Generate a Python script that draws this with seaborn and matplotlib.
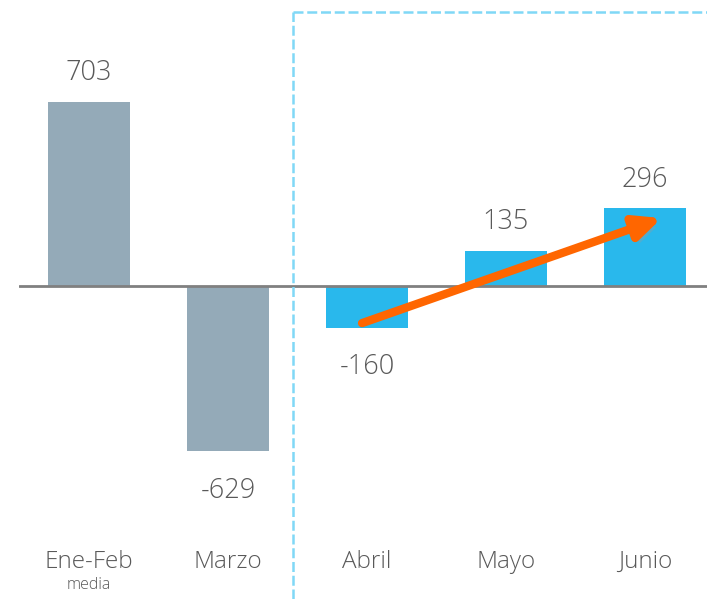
import matplotlib
matplotlib.use("Agg")
import matplotlib.pyplot as plt
import matplotlib.patheffects as pe
from matplotlib.lines import Line2D
import seaborn as sns
import pandas as pd

# chart data
categories = ["Ene-Feb", "Marzo", "Abril", "Mayo", "Junio"]
values = [703, -629, -160, 135, 296]
bar_colors = ["#94AAB8", "#94AAB8", "#29B8EC", "#29B8EC", "#29B8EC"]
sub_label = "media"

sns.set_theme(style="white")
plt.rcParams["font.family"] = ["Open Sans", "DejaVu Sans"]
text_color = "#595959"

df = pd.DataFrame({"cat": categories, "val": values})

fig = plt.figure(figsize=(7.07, 5.99), dpi=100)
ax = fig.add_axes([19 / 707, 0, 1 - 19 / 707, 1])

sns.barplot(data=df, x="cat", y="val", hue="cat", palette=bar_colors,
            legend=False, width=0.59, saturation=1, linewidth=0, ax=ax)

ax.set_xlim(-0.504, 4.446)
ax.set_ylim(-1192, 1090)
ax.axhline(0, color="#808080", lw=2, zorder=3)
sns.despine(ax=ax, left=True, bottom=True)
ax.set_xticks([])
ax.set_yticks([])
ax.set_xlabel("")
ax.set_ylabel("")

# value labels
for i, v in enumerate(values):
    off = 110 if v > 0 else -150
    ax.text(i, v + off, f"{v}", ha="center", va="center", fontsize=19.5,
            color=text_color, fontweight="light")

# category labels
for i, c in enumerate(categories):
    ax.text(i, -1051, c, ha="center", va="center", fontsize=17.5,
            color=text_color, fontweight="light")
ax.text(0, -1137, sub_label, ha="center", va="center", fontsize=11.5,
        color=text_color, fontweight="light")

# trend arrow
ax.annotate("", xy=(4.12, 259), xytext=(1.964, -141),
            arrowprops=dict(arrowstyle="-|>,head_length=1.3,head_width=0.6",
                            color="#FF6600", lw=6, shrinkA=0, shrinkB=0,
                            path_effects=[pe.SimplePatchShadow(offset=(3, -4), shadow_rgbFace="#999999",
                                                               alpha=0.35),
                                          pe.Normal()]),
            zorder=5)

# dashed highlight box
x0 = 293 / 707
ytop = 1 - 12 / 599
fig.add_artist(Line2D([x0, x0], [0, ytop], color="#80D8F6", lw=1.8, ls=(0, (4, 1.5))))
fig.add_artist(Line2D([x0, 1], [ytop, ytop], color="#80D8F6", lw=1.8, ls=(0, (4, 1.5))))

fig.savefig("out.png", dpi=100)
